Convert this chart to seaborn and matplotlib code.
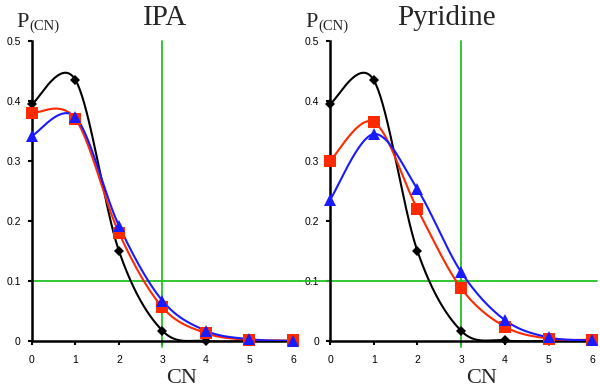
import numpy as np
import pandas as pd
import matplotlib
matplotlib.use("Agg")
import matplotlib.pyplot as plt
import seaborn as sns

# data
cn = [0, 1, 2, 3, 4, 5, 6]
ipa_black = [0.395, 0.435, 0.150, 0.017, 0.000, 0.000, 0.000]
ipa_red = [0.380, 0.370, 0.180, 0.056, 0.013, 0.002, 0.001]
ipa_blue = [0.342, 0.373, 0.192, 0.067, 0.017, 0.003, 0.000]
pyr_black = [0.395, 0.435, 0.150, 0.017, 0.001, 0.000, 0.000]
pyr_red = [0.300, 0.365, 0.220, 0.088, 0.024, 0.004, 0.002]
pyr_blue = [0.235, 0.345, 0.253, 0.115, 0.035, 0.006, 0.001]
panel_titles = ["IPA", "Pyridine"]
cn_cut = 3
p_cut = 0.1

series_style = [
    ("black", "D", 5),
    ("#ff2a00", "s", 8),
    ("#1a1aff", "^", 8),
]


def smooth(x, y, n=40):
    # Excel-style smoothed line: Catmull-Rom bezier between points
    x = np.asarray(x, float)
    y = np.asarray(y, float)
    px = np.concatenate([[x[0]], x, [x[-1]]])
    py = np.concatenate([[y[0]], y, [y[-1]]])
    xs, ys = [], []
    t = np.linspace(0, 1, n)
    for i in range(1, len(px) - 2):
        p0 = np.array([px[i], py[i]])
        p1 = np.array([px[i + 1], py[i + 1]])
        c1 = p0 + (p1 - np.array([px[i - 1], py[i - 1]])) / 6
        c2 = p1 - (np.array([px[i + 2], py[i + 2]]) - p0) / 6
        b = ((1 - t) ** 3)[:, None] * p0 + (3 * (1 - t) ** 2 * t)[:, None] * c1 \
            + (3 * (1 - t) * t ** 2)[:, None] * c2 + (t ** 3)[:, None] * p1
        xs.extend(b[:, 0])
        ys.extend(b[:, 1])
    return pd.DataFrame({"x": xs, "y": ys})


sns.set_theme(style="ticks")
plt.rcParams["font.family"] = ["Liberation Sans", "DejaVu Sans"]

fig = plt.figure(figsize=(6, 3.89), dpi=100)
ax_l = fig.add_axes([0.0533, 0.1234, 0.435, 0.771])
ax_r = fig.add_axes([0.55, 0.1234, 0.437, 0.771])

panels = [
    (ax_l, [ipa_black, ipa_red, ipa_blue], (0, 6.16)),
    (ax_r, [pyr_black, pyr_red, pyr_blue], (-0.69, 6.1)),
]

for ax, series, hspan in panels:
    # green guide lines
    ax.plot(hspan, [p_cut, p_cut], color="#22c322", lw=1.3, clip_on=False, zorder=1)
    ax.plot([cn_cut, cn_cut], [-0.01, 0.5], color="#22c322", lw=1.3, clip_on=False, zorder=1)
    for vals, (col, mk, ms) in zip(series, series_style):
        sm = smooth(cn, vals)
        sns.lineplot(data=sm, x="x", y="y", color=col, lw=1.5, ax=ax,
                     sort=False, estimator=None, zorder=3)
        ax.plot(cn, vals, linestyle="none", marker=mk, markersize=ms,
                color=col, markeredgewidth=0, clip_on=False, zorder=4)
    ax.set_xlim(0, 6)
    ax.set_ylim(0, 0.5)
    ax.set_xticks(cn)
    ax.set_yticks([0, 0.1, 0.2, 0.3, 0.4, 0.5])
    ax.set_yticklabels(["0", "0.1", "0.2", "0.3", "0.4", "0.5"])
    ax.set_xlabel("")
    ax.set_ylabel("")
    ax.tick_params(labelsize=7.5, length=3, width=1.5, colors="black")
    ax.tick_params(axis="x", pad=7)
    ax.tick_params(axis="y", pad=5)
    sns.despine(ax=ax)
    ax.spines["left"].set_linewidth(1.8)
    ax.spines["bottom"].set_linewidth(1.8)
    ax.spines["left"].set_color("black")
    ax.spines["bottom"].set_color("black")
    ax.patch.set_alpha(0)

serif = ["Liberation Serif", "DejaVu Serif"]
fig.text(165 / 600, 1 - 25 / 389, panel_titles[0], family=serif, fontsize=21, ha="center")
fig.text(447 / 600, 1 - 25 / 389, panel_titles[1], family=serif, fontsize=21, ha="center")
for px in (16, 305):
    fig.text(px / 600, 1 - 27 / 389, "P", family=serif, fontsize=16)
    fig.text((px + 13) / 600, 1 - 30 / 389, "(CN)", family=serif, fontsize=10.5)
fig.text(182 / 600, 1 - 383 / 389, "CN", family=serif, fontsize=16, ha="center")
fig.text(482 / 600, 1 - 383 / 389, "CN", family=serif, fontsize=16, ha="center")

fig.savefig("out.png", dpi=100)
